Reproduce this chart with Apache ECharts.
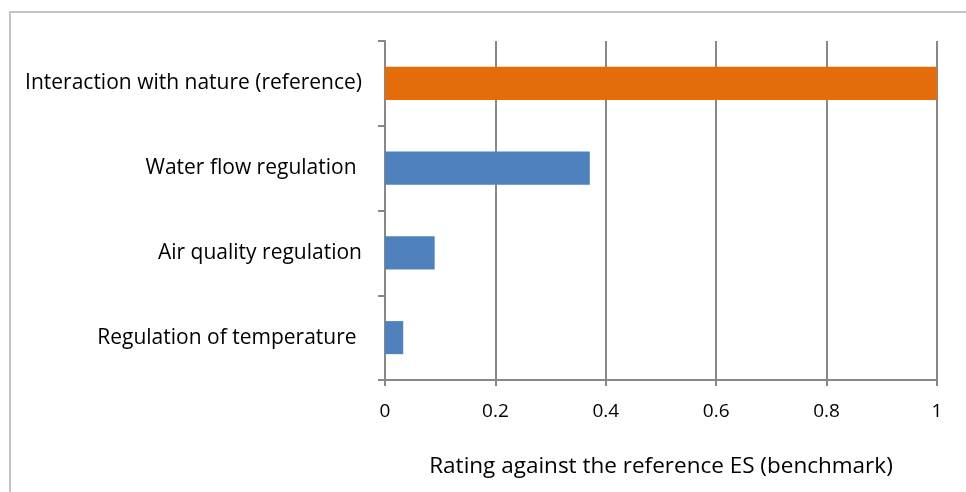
<!DOCTYPE html>
<html>
<head>
<meta charset="utf-8">
<script src="https://cdn.jsdelivr.net/npm/echarts@6/dist/echarts.min.js"></script>
<style>
  html, body { margin: 0; padding: 0; background: #fff; }
  #chart { width: 966px; height: 492px; }
</style>
</head>
<body>
<div id="chart"></div>
<script>
// categories bottom to top, as ECharts draws a category yAxis
const categories = ['Regulation of temperature ', 'Air quality regulation', 'Water flow regulation ', 'Interaction with nature (reference)']
const ratings = [0.033, 0.09, 0.371, 1]
const barColors = ['#4F81BD', '#4F81BD', '#4F81BD', '#E46C0A']
const xTicks = [0, 0.2, 0.4, 0.6, 0.8, 1]

const chart = echarts.init(document.getElementById('chart'))
const font = 'Open Sans'

const option = {
  animation: false,
  graphic: [{
    type: 'rect',
    shape: { x: 10, y: 12, width: 1000, height: 600 },
    style: { fill: 'none', stroke: '#c4c4c4', lineWidth: 2 }
  }],
  grid: { left: 385, right: 29, top: 41, bottom: 112 },
  xAxis: {
    type: 'value',
    min: 0,
    max: 1,
    interval: 0.2,
    name: 'Rating against the reference ES (benchmark)',
    nameLocation: 'middle',
    nameGap: 75,
    nameTextStyle: { fontFamily: font, fontSize: 22.5, color: '#000' },
    axisLine: { show: true, lineStyle: { color: '#888888', width: 2 } },
    axisTick: { show: true, length: 6, lineStyle: { color: '#888888', width: 2 } },
    axisLabel: {
      fontFamily: font, fontSize: 19, color: '#000', margin: 22,
      formatter: v => xTicks.includes(Math.round(v * 10) / 10) ? String(Math.round(v * 10) / 10) : ''
    },
    splitLine: { show: true, lineStyle: { color: '#888888', width: 2 } }
  },
  yAxis: {
    type: 'category',
    data: categories,
    axisLine: { show: true, lineStyle: { color: '#888888', width: 2 } },
    axisTick: { show: true, length: 7, alignWithLabel: false, lineStyle: { color: '#888888', width: 2 } },
    axisLabel: { fontFamily: font, fontSize: 21, color: '#000', margin: 23 },
    splitLine: { show: false }
  },
  series: [{
    type: 'bar',
    barWidth: '39%',
    data: ratings.map((v, i) => ({ value: v, itemStyle: { color: barColors[i] } }))
  }]
}

option && chart.setOption(option)
</script>
</body>
</html>
